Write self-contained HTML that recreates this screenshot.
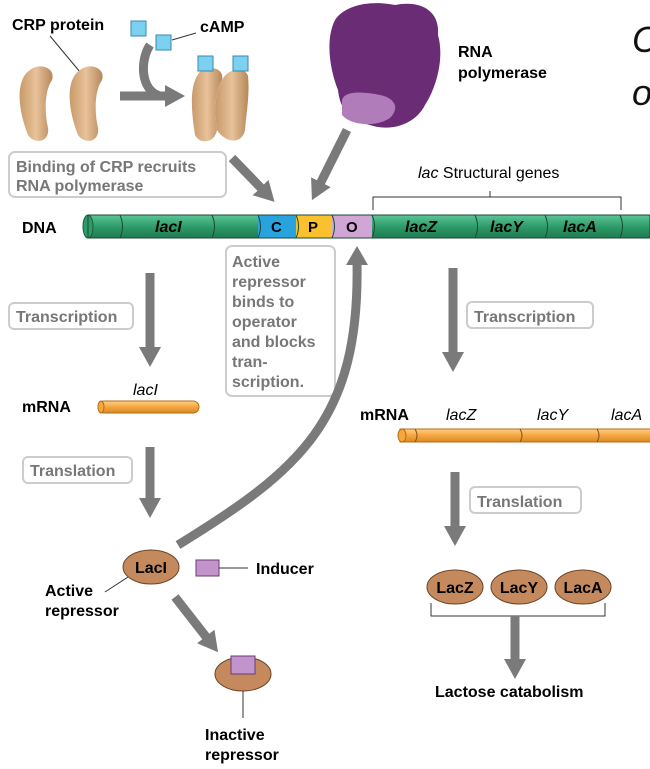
<!DOCTYPE html>
<html><head><meta charset="utf-8"><style>
html,body{margin:0;padding:0;background:#fff;}
svg{display:block;font-family:"Liberation Sans",Arial,sans-serif;}
.b{font-weight:bold;}
.lbl{font-size:16px;fill:#777;font-weight:bold;}
</style></head><body>
<svg width="650" height="769" viewBox="0 0 650 769" xmlns="http://www.w3.org/2000/svg">
<defs>
<linearGradient id="dna" x1="0" y1="0" x2="0" y2="1"><stop offset="0" stop-color="#5cc596"/><stop offset="0.5" stop-color="#2e9c6a"/><stop offset="1" stop-color="#1f7a50"/></linearGradient>
<linearGradient id="or" x1="0" y1="0" x2="0" y2="1"><stop offset="0" stop-color="#ffd08a"/><stop offset="0.5" stop-color="#f5a640"/><stop offset="1" stop-color="#d98a25"/></linearGradient>
<linearGradient id="bean" x1="0" y1="0" x2="1" y2="0"><stop offset="0" stop-color="#c79a6a"/><stop offset="0.5" stop-color="#e8c29a"/><stop offset="1" stop-color="#b5875a"/></linearGradient>
<marker id="ah" markerWidth="22" markerHeight="22" refX="2" refY="11" orient="auto" markerUnits="userSpaceOnUse"><path d="M0,0 L20,11 L0,22 z" fill="#7a7a7a"/></marker>
</defs>

<!-- top -->
<text x="12" y="30" font-size="16" class="b">CRP protein</text>
<line x1="50" y1="36" x2="80" y2="72" stroke="#333" stroke-width="1"/>
<rect x="131" y="21" width="15" height="15" fill="#7cd0f0" stroke="#3a8ab0"/>
<rect x="156" y="35" width="15" height="15" fill="#7cd0f0" stroke="#3a8ab0"/>
<line x1="172" y1="40" x2="196" y2="33" stroke="#333"/>
<text x="200" y="32" font-size="16" class="b">cAMP</text>
<path d="M30,70 C15,80 18,110 28,135 C35,145 50,142 48,128 C44,110 45,90 52,80 C56,68 40,62 30,70z" fill="url(#bean)"/>
<path d="M80,70 C65,80 68,110 78,135 C85,145 100,142 98,128 C94,110 95,90 102,80 C106,68 90,62 80,70z" fill="url(#bean)"/>
<path d="M150,45 C140,60 140,90 160,96" stroke="#7a7a7a" stroke-width="9" fill="none"/>
<line x1="120" y1="96" x2="167" y2="96" stroke="#7a7a7a" stroke-width="9" marker-end="url(#ah)"/>
<path d="M200,72 C188,85 192,115 195,135 C200,145 215,143 217,130 C214,110 215,90 222,80 C225,68 208,64 200,72z" fill="url(#bean)"/>
<path d="M222,80 C228,68 245,66 248,76 C250,95 246,115 245,130 C242,145 225,143 217,130 C214,110 215,90 222,80z" fill="url(#bean)"/>
<rect x="198" y="56" width="15" height="15" fill="#7cd0f0" stroke="#3a8ab0"/>
<rect x="233" y="56" width="15" height="15" fill="#7cd0f0" stroke="#3a8ab0"/>
<path d="M335,20 C345,5 370,0 395,5 C420,0 440,10 438,35 C445,60 435,90 425,105 C415,125 390,132 370,125 C350,120 340,110 338,90 C330,70 325,40 335,20z" fill="#6a2c74"/>
<path d="M342,100 C345,90 365,92 380,95 C395,98 400,108 390,118 C375,128 350,125 342,115z" fill="#b07dba"/>
<text x="458" y="57" font-size="16" class="b">RNA</text>
<text x="458" y="78" font-size="16" class="b">polymerase</text>
<text x="632" y="52" font-size="36" font-style="italic" fill="#111">C</text>
<text x="632" y="105" font-size="36" font-style="italic" fill="#111">o</text>

<!-- box binding -->
<rect x="9" y="152" width="217" height="45" rx="6" fill="#fff" stroke="#ccc" stroke-width="2"/>
<text x="16" y="172" class="lbl">Binding of CRP recruits</text>
<text x="16" y="191" class="lbl">RNA polymerase</text>
<line x1="232" y1="158" x2="262" y2="189" stroke="#7a7a7a" stroke-width="9" marker-end="url(#ah)"/>
<line x1="347" y1="130" x2="320" y2="184" stroke="#7a7a7a" stroke-width="9" marker-end="url(#ah)"/>

<!-- DNA -->
<text x="22" y="233" font-size="16" class="b">DNA</text>
<rect x="88" y="215" width="562" height="23" fill="url(#dna)"/>
<rect x="258" y="215" width="38" height="23" fill="#29a3dd"/>
<rect x="296" y="215" width="36" height="23" fill="#fbc02d"/>
<rect x="332" y="215" width="40" height="23" fill="#cfa6d6"/>
<ellipse cx="88" cy="226.5" rx="5" ry="11.5" fill="#2e9c6a" stroke="#1a5e3c"/>
<g stroke="#1a4a33" fill="none" stroke-width="1">
<path d="M120,215 q5,11.5 0,23"/><path d="M212,215 q5,11.5 0,23"/><path d="M258,215 q5,11.5 0,23"/><path d="M296,215 q5,11.5 0,23"/><path d="M332,215 q5,11.5 0,23"/><path d="M372,215 q5,11.5 0,23"/><path d="M475,215 q5,11.5 0,23"/><path d="M545,215 q5,11.5 0,23"/><path d="M620,215 q5,11.5 0,23"/>
<rect x="88" y="215" width="562" height="23"/>
</g>
<g font-size="16" font-style="italic" class="b">
<text x="155" y="232">lacI</text><text x="405" y="232">lacZ</text><text x="490" y="232">lacY</text><text x="563" y="232">lacA</text>
</g>
<g font-size="15" class="b"><text x="271" y="232">C</text><text x="308" y="232">P</text><text x="346" y="232">O</text></g>
<path d="M373,210 V197 H621 V210" stroke="#333" fill="none"/><line x1="490" y1="197" x2="490" y2="191" stroke="#333"/>
<text x="418" y="178" font-size="16"><tspan font-style="italic">lac</tspan> Structural genes</text>

<!-- active repressor box -->
<rect x="226" y="246" width="109" height="150" rx="6" fill="#fff" stroke="#ccc" stroke-width="2"/>
<g class="lbl"><text x="232" y="267">Active</text><text x="232" y="287">repressor</text><text x="232" y="307">binds to</text><text x="232" y="327">operator</text><text x="232" y="347">and blocks</text><text x="232" y="367">tran-</text><text x="232" y="387">scription.</text></g>
<path d="M178,545 C300,470 360,420 357,262" stroke="#7a7a7a" stroke-width="9" fill="none"/>
<path d="M346,265 L357,246 L368,265z" fill="#7a7a7a"/>

<!-- left column -->
<line x1="150" y1="273" x2="150" y2="349" stroke="#7a7a7a" stroke-width="9" marker-end="url(#ah)"/>
<rect x="9" y="303" width="124" height="26" rx="5" fill="#fff" stroke="#ccc" stroke-width="2"/>
<text x="16" y="322" class="lbl">Transcription</text>
<text x="22" y="412" font-size="16" class="b">mRNA</text>
<rect x="98" y="401" width="101" height="12" rx="6" fill="url(#or)" stroke="#b06d10"/>
<ellipse cx="101" cy="407" rx="3" ry="6" fill="#f5a640" stroke="#b06d10"/>
<text x="133" y="395" font-size="16" font-style="italic">lacI</text>
<line x1="150" y1="447" x2="150" y2="500" stroke="#7a7a7a" stroke-width="9" marker-end="url(#ah)"/>
<rect x="23" y="457" width="109" height="26" rx="5" fill="#fff" stroke="#ccc" stroke-width="2"/>
<text x="30" y="476" class="lbl">Translation</text>
<ellipse cx="151" cy="567" rx="28" ry="17" fill="#c48a5e" stroke="#6b4225"/>
<text x="151" y="573" font-size="16" class="b" text-anchor="middle">LacI</text>
<rect x="196" y="560" width="23" height="16" fill="#c294cc" stroke="#6b3a75"/>
<line x1="219" y1="568" x2="248" y2="568" stroke="#333"/>
<text x="256" y="574" font-size="16" class="b">Inducer</text>
<line x1="105" y1="592" x2="128" y2="577" stroke="#333"/>
<text x="45" y="596" font-size="16" class="b">Active</text>
<text x="45" y="616" font-size="16" class="b">repressor</text>
<line x1="175" y1="597" x2="207" y2="638" stroke="#7a7a7a" stroke-width="9" marker-end="url(#ah)"/>
<ellipse cx="243" cy="674" rx="28" ry="17" fill="#c48a5e" stroke="#6b4225"/>
<rect x="231" y="656" width="24" height="18" fill="#c294cc" stroke="#6b3a75"/>
<line x1="243" y1="691" x2="243" y2="718" stroke="#333"/>
<text x="205" y="740" font-size="16" class="b">Inactive</text>
<text x="205" y="760" font-size="16" class="b">repressor</text>

<!-- right column -->
<line x1="453" y1="268" x2="453" y2="354" stroke="#7a7a7a" stroke-width="9" marker-end="url(#ah)"/>
<rect x="467" y="302" width="126" height="26" rx="5" fill="#fff" stroke="#ccc" stroke-width="2"/>
<text x="474" y="322" class="lbl">Transcription</text>
<text x="360" y="420" font-size="16" class="b">mRNA</text>
<g font-size="16" font-style="italic"><text x="446" y="420">lacZ</text><text x="537" y="420">lacY</text><text x="611" y="420">lacA</text></g>
<rect x="400" y="429" width="260" height="13" fill="url(#or)" stroke="#b06d10"/>
<ellipse cx="402" cy="435.5" rx="4" ry="6.5" fill="#f5a640" stroke="#b06d10"/>
<g stroke="#8a5510" fill="none"><path d="M415,429 q4,6.5 0,13"/><path d="M520,429 q4,6.5 0,13"/><path d="M597,429 q4,6.5 0,13"/></g>
<line x1="455" y1="472" x2="455" y2="528" stroke="#7a7a7a" stroke-width="9" marker-end="url(#ah)"/>
<rect x="470" y="487" width="111" height="26" rx="5" fill="#fff" stroke="#ccc" stroke-width="2"/>
<text x="477" y="507" class="lbl">Translation</text>
<g font-size="16" class="b" text-anchor="middle">
<ellipse cx="455" cy="587" rx="28" ry="17" fill="#c48a5e" stroke="#6b4225"/><text x="455" y="593">LacZ</text>
<ellipse cx="519" cy="587" rx="28" ry="17" fill="#c48a5e" stroke="#6b4225"/><text x="519" y="593">LacY</text>
<ellipse cx="583" cy="587" rx="28" ry="17" fill="#c48a5e" stroke="#6b4225"/><text x="583" y="593">LacA</text>
</g>
<path d="M431,603 V616 H605 V603" stroke="#333" fill="none"/>
<line x1="515" y1="616" x2="515" y2="661" stroke="#7a7a7a" stroke-width="9" marker-end="url(#ah)"/>
<text x="435" y="697" font-size="16" class="b">Lactose catabolism</text>
</svg>
</body></html>
